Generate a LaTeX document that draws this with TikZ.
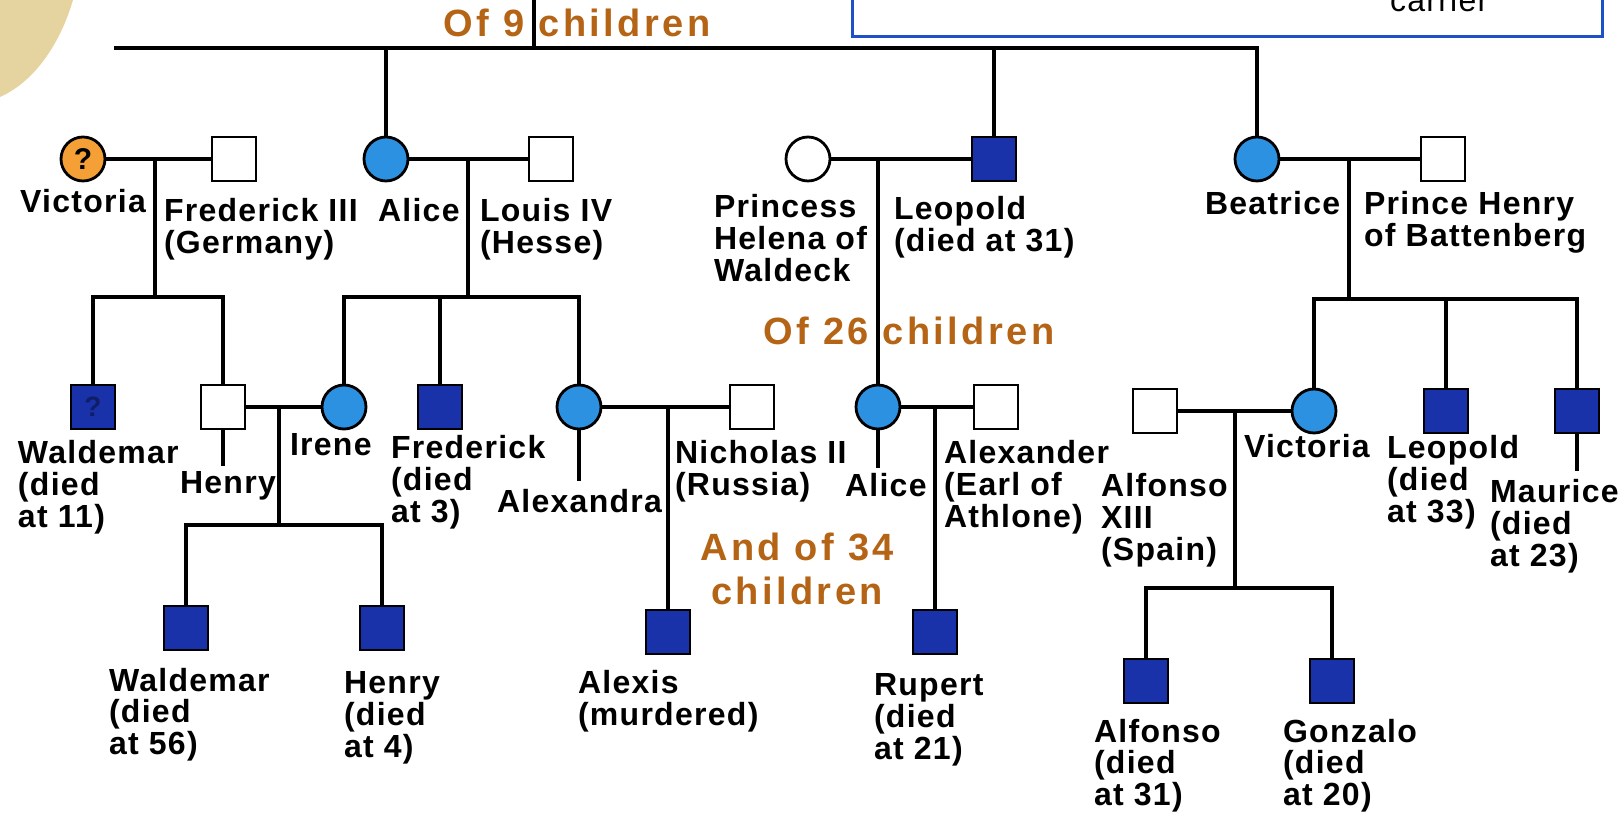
\documentclass[tikz,border=0pt]{standalone}
\usepackage{fontspec}
\newfontfamily\lblfont{Liberation Sans}[LetterSpace=4]
\newfontfamily\notefont{Liberation Sans}[LetterSpace=9]
\definecolor{affect}{RGB}{25,50,170}
\definecolor{carry}{RGB}{45,145,225}
\definecolor{qmark}{RGB}{245,160,55}
\definecolor{notecol}{RGB}{180,100,20}
\definecolor{boxblue}{RGB}{30,80,200}
\definecolor{coin}{RGB}{230,212,160}

\begin{document}
\begin{tikzpicture}[x=0.5pt,y=-0.5pt,line width=2pt,
    male/.style={draw,rectangle,line width=1.4pt,minimum size=22pt,inner sep=0pt,fill=white},
    female/.style={draw,circle,line width=1.4pt,minimum size=22pt,inner sep=0pt,fill=white},
    sick/.style={male,fill=affect},
    carrier/.style={female,fill=carry},
    lbl/.style={anchor=base west,inner sep=0pt,align=left,font=\lblfont\bfseries\fontsize{16}{16}\selectfont},
    note/.style={anchor=base,inner sep=0pt,align=center,text=notecol,font=\notefont\bfseries\fontsize{19}{22}\selectfont}]
  \useasboundingbox (0,0) rectangle (1623,822);
  \clip (0,0) rectangle (1623,822);
  \fill[coin] (0,0) -- (73,0) .. controls (62,38) and (38,80) .. (0,97) -- cycle;
  % legend box, cut off at the top
  \draw[boxblue,line width=1.5pt] (852,-20) rectangle (1602,37);
  \node[lbl,font=\lblfont\fontsize{16}{16}\selectfont] (carrier-l) at (1388,12) {carrier};

  % generation 1
  \node[carrier,fill=qmark] (vic) at (83,159) {\lblfont\bfseries\fontsize{15}{15}\selectfont ?};
  \node[male] (fred) at (234,159) {};
  \node[carrier] (alice) at (386,159) {};
  \node[male] (louis) at (551,159) {};
  \node[female] (helena) at (808,159) {};
  \node[sick] (leo) at (994,159) {};
  \node[carrier] (bea) at (1257,159) {};
  \node[male] (phenry) at (1443,159) {};

  % labels sit on the baseline of their last line
  \node[lbl,anchor=base] (vic-l) at (83,213) {Victoria};
  \node[lbl] (fred-l) at (162,254) {Frederick III\\(Germany)};
  \node[lbl] (alice-l) at (376,222) {Alice};
  \node[lbl] (louis-l) at (478,254) {Louis IV\\(Hesse)};
  \node[lbl] (helena-l) at (712,282) {Princess\\Helena of\\Waldeck};
  \node[lbl] (leo-l) at (892,252) {Leopold\\(died at 31)};
  \node[lbl] (bea-l) at (1203,215) {Beatrice};
  \node[lbl] (phenry-l) at (1362,247) {Prince Henry\\of Battenberg};

  % generation 2
  \node[sick] (wald1) at (93,407) {\lblfont\bfseries\fontsize{14}{14}\selectfont\color{affect!60!black}?};
  \node[male] (henry1) at (223,407) {};
  \node[carrier] (irene) at (344,407) {};
  \node[sick] (fredk) at (440,407) {};
  \node[carrier] (alexa) at (579,407) {};
  \node[male] (nich) at (752,407) {};
  \node[carrier] (alice2) at (878,407) {};
  \node[male] (alex) at (996,407) {};
  \node[male] (alfx) at (1155,411) {};
  \node[carrier] (vic2) at (1314,411) {};
  \node[sick] (leo2) at (1446,411) {};
  \node[sick] (maur) at (1577,411) {};

  \node[lbl] (wald1-l) at (16,528) {Waldemar\\(died\\at 11)};
  \node[lbl] (henry1-l) at (178,494) {Henry};
  \node[lbl] (irene-l) at (288,456) {Irene};
  \node[lbl] (fredk-l) at (389,523) {Frederick\\(died\\at 3)};
  \node[lbl] (alexa-l) at (495,513) {Alexandra};
  \node[lbl] (nich-l) at (673,496) {Nicholas II\\(Russia)};
  \node[lbl] (alice2-l) at (843,497) {Alice};
  \node[lbl] (alex-l) at (942,528) {Alexander\\(Earl of\\Athlone)};
  \node[lbl] (alfx-l) at (1099,561) {Alfonso\\XIII\\(Spain)};
  \node[lbl] (vic2-l) at (1242,458) {Victoria};
  \node[lbl] (leo2-l) at (1385,523) {Leopold\\(died\\at 33)};
  \node[lbl] (maur-l) at (1488,567) {Maurice\\(died\\at 23)};

  % generation 3
  \node[sick] (wald2) at (186,628) {};
  \node[sick] (henry2) at (382,628) {};
  \node[sick] (alexis) at (668,632) {};
  \node[sick] (rupert) at (935,632) {};
  \node[sick] (alfonso) at (1146,681) {};
  \node[sick] (gonzalo) at (1332,681) {};

  \node[lbl] (wald2-l) at (107,755) {Waldemar\\(died\\at 56)};
  \node[lbl] (henry2-l) at (342,758) {Henry\\(died\\at 4)};
  \node[lbl] (alexis-l) at (576,726) {Alexis\\(murdered)};
  \node[lbl] (rupert-l) at (872,760) {Rupert\\(died\\at 21)};
  \node[lbl] (alfonso-l) at (1092,806) {Alfonso\\(died\\at 31)};
  \node[lbl] (gonzalo-l) at (1281,806) {Gonzalo\\(died\\at 20)};

  \node[note] (n9) at (577,37) {Of 9 children};
  \node[note] (n26) at (909,345) {Of 26 children};
  \node[note] (n34) at (797,605) {And of 34\\children};

  % top sibship
  \coordinate (top) at (534,0);
  \coordinate (tl) at (114,48);
  \draw (top) -- (top |- tl);
  \draw (tl) -| (bea);
  \draw (alice |- tl) -- (alice);
  \draw (leo |- tl) -- (leo);

  % couples and their children
  \coordinate (m1) at (155,159); \coordinate (s1) at (155,297);
  \coordinate (m2) at (468,159); \coordinate (s2) at (468,297);
  \coordinate (m3) at (878,159);
  \coordinate (m4) at (1349,159); \coordinate (s4) at (1349,299);
  \coordinate (m5) at (279,407); \coordinate (s5) at (279,525);
  \coordinate (m6) at (668,407);
  \coordinate (m7) at (935,407);
  \coordinate (m8) at (1235,411); \coordinate (s8) at (1235,588);

  \draw (vic) -- (fred);
  \draw (m1) -- (s1);
  \draw (wald1) |- (s1) -| (henry1);
  \draw (alice) -- (louis);
  \draw (m2) -- (s2);
  \draw (irene) |- (s2) -| (alexa);
  \draw (fredk) -- (fredk |- s2);
  \draw (helena) -- (leo);
  \draw (m3) -- (alice2);
  \draw (bea) -- (phenry);
  \draw (m4) -- (s4);
  \draw (vic2) |- (s4) -| (maur);
  \draw (leo2) -- (leo2 |- s4);
  \draw (henry1) -- (irene);
  \draw (m5) -- (s5);
  \draw (wald2) |- (s5) -| (henry2);
  \draw (alexa) -- (nich);
  \draw (m6) -- (alexis);
  \draw (alice2) -- (alex);
  \draw (m7) -- (rupert);
  \draw (alfx) -- (vic2);
  \draw (m8) -- (s8);
  \draw (alfonso) |- (s8) -| (gonzalo);

  % ticks down to the labels
  \coordinate (henry1-t) at (223,466);
  \coordinate (alexa-t) at (579,481);
  \coordinate (alice2-t) at (878,468);
  \coordinate (maur-t) at (1577,471);
  \draw (henry1) -- (henry1-t);
  \draw (alexa) -- (alexa-t);
  \draw (alice2) -- (alice2-t);
  \draw (maur) -- (maur-t);
\end{tikzpicture}
\end{document}
